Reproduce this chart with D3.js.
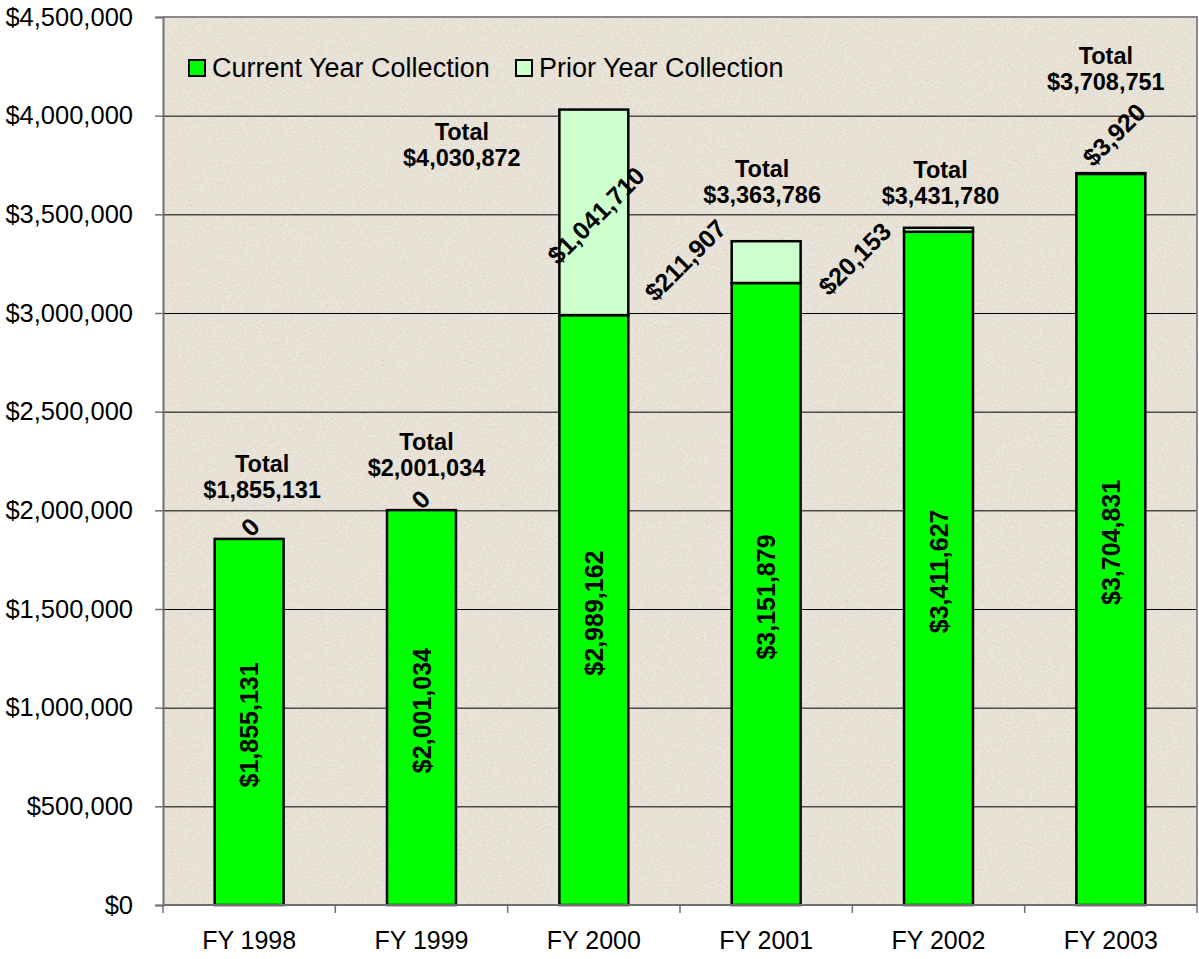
<!DOCTYPE html>
<html>
<head>
<meta charset="utf-8">
<script src="https://cdn.jsdelivr.net/npm/d3@7"></script>
<style>
  body { margin: 0; background: #fff; }
  text { font-family: "Liberation Sans", Arial, sans-serif; }
</style>
</head>
<body>
<div id="chart"></div>
<script>
// data
var years = ["FY 1998", "FY 1999", "FY 2000", "FY 2001", "FY 2002", "FY 2003"];
var currentYear = [1855131, 2001034, 2989162, 3151879, 3411627, 3704831];
var priorYear = [0, 0, 1041710, 211907, 20153, 3920];
var totals = [1855131, 2001034, 4030872, 3363786, 3431780, 3708751];
var yTickValues = [0, 500000, 1000000, 1500000, 2000000, 2500000, 3000000, 3500000, 4000000, 4500000];
var seriesNames = ["Current Year Collection", "Prior Year Collection"];

// label nudges (pixels) so the labels sit where Excel put them
var totalNudge = [[13, -41], [5, -34], [-132, 56], [-4, -38], [2, -24], [-5, -83]];
var priorNudge = [[1, -12], [-1, -11], [2, 3], [-81, -2], [-84, 29], [3, -39]];

var width = 1199, height = 959;
var plotLeft = 163, plotRight = 1197, plotTop = 17, plotBottom = 905;
var green = "#00ff00", lightGreen = "#ccffcc";
var money = function (d) { return "$" + d3.format(",")(d); };

var svg = d3.select("#chart").append("svg")
    .attr("width", width).attr("height", height);

// paper texture for the plot area
var defs = svg.append("defs");
var filt = defs.append("filter").attr("id", "paper")
    .attr("x", 0).attr("y", 0).attr("width", 1).attr("height", 1);
filt.append("feTurbulence").attr("type", "fractalNoise")
    .attr("baseFrequency", 0.45).attr("numOctaves", 3).attr("seed", 7).attr("result", "n");
filt.append("feColorMatrix").attr("in", "n").attr("type", "matrix")
    .attr("values", "0 0 0 0 0.5  0 0 0 0 0.47  0 0 0 0 0.42  -2.4 0 0 0 1.25");

var xScale = d3.scaleBand().domain(years).range([plotLeft, plotRight])
    .paddingInner(0.6).paddingOuter(0.3);
var yScale = d3.scaleLinear().domain([0, 4500000]).range([plotBottom, plotTop]);

svg.append("rect").attr("x", plotLeft).attr("y", plotTop)
    .attr("width", plotRight - plotLeft).attr("height", plotBottom - plotTop)
    .attr("fill", "#e9e3d8");
svg.append("rect").attr("x", plotLeft).attr("y", plotTop)
    .attr("width", plotRight - plotLeft).attr("height", plotBottom - plotTop)
    .attr("filter", "url(#paper)").attr("opacity", 0.35);

// gridlines
svg.append("g").selectAll("line").data(yTickValues.slice(1, -1)).enter().append("line")
    .attr("x1", plotLeft).attr("x2", plotRight)
    .attr("y1", function (d) { return yScale(d) + 0.5; })
    .attr("y2", function (d) { return yScale(d) + 0.5; })
    .attr("stroke", "#000").attr("stroke-width", 1);

// plot border top/right
svg.append("path")
    .attr("d", "M" + plotLeft + "," + plotTop + "H" + plotRight + "V" + plotBottom)
    .attr("fill", "none").attr("stroke", "#8a8a8a").attr("stroke-width", 2);

// bars
var stackData = years.map(function (y, i) {
    return { year: y, cur: currentYear[i], prior: priorYear[i], total: totals[i], i: i };
});
var bw = xScale.bandwidth();

svg.append("g").selectAll("rect").data(stackData).enter().append("rect")
    .attr("x", function (d) { return xScale(d.year); })
    .attr("y", function (d) { return yScale(d.cur); })
    .attr("width", bw)
    .attr("height", function (d) { return yScale(0) - yScale(d.cur); })
    .attr("fill", green).attr("stroke", "#000").attr("stroke-width", 2.5);

svg.append("g").selectAll("rect").data(stackData.filter(function (d) { return d.prior > 0; }))
    .enter().append("rect")
    .attr("x", function (d) { return xScale(d.year); })
    .attr("y", function (d) { return yScale(d.cur + d.prior); })
    .attr("width", bw)
    .attr("height", function (d) { return yScale(d.cur) - yScale(d.cur + d.prior); })
    .attr("fill", lightGreen).attr("stroke", "#000").attr("stroke-width", 2.5);

// axes
var yAxis = svg.append("g").attr("transform", "translate(" + plotLeft + ",0)")
    .call(d3.axisLeft(yScale).tickValues(yTickValues).tickFormat(money).tickSize(8).tickPadding(22));
yAxis.select(".domain").attr("stroke", "#707070").attr("stroke-width", 2);
yAxis.selectAll(".tick line").attr("stroke", "#707070").attr("stroke-width", 1.5);
yAxis.selectAll(".tick text").attr("font-size", 25.5).attr("fill", "#000")
    .attr("font-family", "Liberation Sans, Arial, sans-serif");

var xAxis = svg.append("g").attr("transform", "translate(0," + plotBottom + ")");
xAxis.append("line").attr("x1", plotLeft).attr("x2", plotRight).attr("y1", 0).attr("y2", 0)
    .attr("stroke", "#707070").attr("stroke-width", 2);
var edges = years.map(function (y) { return xScale(y) - xScale.step() * 0.3; });
edges.push(plotRight);
xAxis.selectAll(".xt").data(edges).enter().append("line")
    .attr("x1", function (d) { return d; }).attr("x2", function (d) { return d; })
    .attr("y1", 0).attr("y2", 8).attr("stroke", "#707070").attr("stroke-width", 1.5);
xAxis.selectAll(".xl").data(years).enter().append("text")
    .attr("x", function (d) { return xScale(d) + bw / 2; })
    .attr("y", 44).attr("text-anchor", "middle")
    .attr("font-size", 25).text(function (d) { return d; });

// labels inside current-year bars
svg.append("g").selectAll("text").data(stackData).enter().append("text")
    .attr("transform", function (d) {
        var cx = xScale(d.year) + bw / 2;
        var cy = (yScale(0) + yScale(d.cur)) / 2 + 3;
        return "translate(" + cx + "," + cy + ") rotate(-90)";
    })
    .attr("text-anchor", "middle").attr("dominant-baseline", "central")
    .attr("font-size", 25).attr("font-weight", "bold")
    .text(function (d) { return money(d.cur); });

// prior-year labels, rotated
svg.append("g").selectAll("text").data(stackData).enter().append("text")
    .attr("transform", function (d) {
        var cx = xScale(d.year) + bw / 2 + priorNudge[d.i][0];
        var cy = (yScale(d.cur) + yScale(d.cur + d.prior)) / 2 + priorNudge[d.i][1];
        return "translate(" + cx + "," + cy + ") rotate(-45)";
    })
    .attr("text-anchor", "middle").attr("dominant-baseline", "central")
    .attr("font-size", 25).attr("font-weight", "bold")
    .text(function (d) { return d.prior === 0 ? "0" : money(d.prior); });

// total labels
var tl = svg.append("g").selectAll("text").data(stackData).enter().append("text")
    .attr("text-anchor", "middle").attr("font-size", 23.5).attr("font-weight", "bold");
tl.append("tspan")
    .attr("x", function (d) { return xScale(d.year) + bw / 2 + totalNudge[d.i][0]; })
    .attr("y", function (d) { return yScale(d.total) + totalNudge[d.i][1] - 26; })
    .text("Total");
tl.append("tspan")
    .attr("x", function (d) { return xScale(d.year) + bw / 2 + totalNudge[d.i][0]; })
    .attr("y", function (d) { return yScale(d.total) + totalNudge[d.i][1]; })
    .text(function (d) { return money(d.total); });

// legend
var legend = svg.append("g").attr("transform", "translate(188,59)");
var legX = [0, 327];
var legColors = [green, lightGreen];
seriesNames.forEach(function (name, i) {
    legend.append("rect").attr("x", legX[i] + 1).attr("y", 1).attr("width", 16).attr("height", 16)
        .attr("fill", legColors[i]).attr("stroke", "#000").attr("stroke-width", 2);
    legend.append("text").attr("x", legX[i] + 24).attr("y", 18)
        .attr("font-size", 27).text(name);
});
</script>
</body>
</html>
